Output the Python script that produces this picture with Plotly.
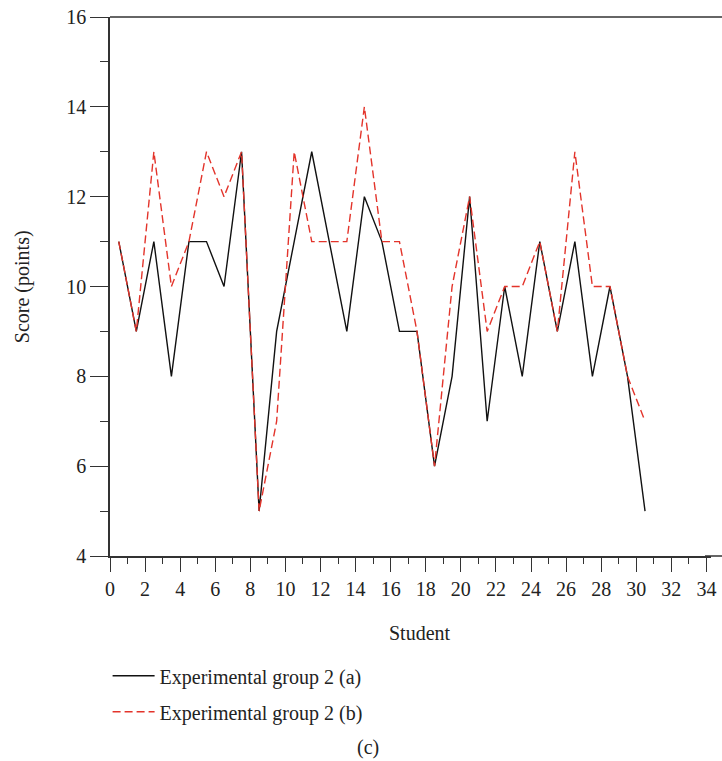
import plotly.graph_objects as go

students = [i + 0.5 for i in range(31)]
group_a = [11, 9, 11, 8, 11, 11, 10, 13, 5, 9, 11, 13, 11, 9, 12, 11, 9, 9, 6, 8,
           12, 7, 10, 8, 11, 9, 11, 8, 10, 8, 5]
group_b = [11, 9, 13, 10, 11, 13, 12, 13, 5, 7, 13, 11, 11, 11, 14, 11, 11, 9, 6, 10,
           12, 9, 10, 10, 11, 9, 13, 10, 10, 8, 7]
x_ticks = list(range(0, 35, 2))
y_ticks = list(range(4, 17, 2))

FONT = "Liberation Serif"
AX = "#333333"

fig = go.Figure()
fig.add_trace(go.Scatter(x=students, y=group_a, mode="lines", name="Experimental group 2 (a)",
                         line=dict(color="#111111", width=1.4), legendgroup="a"))
fig.add_trace(go.Scatter(x=students, y=group_b, mode="lines", name="Experimental group 2 (b)",
                         line=dict(color="#e3342b", width=1.4, dash="8px,4px"), legendgroup="b"))

fig.update_layout(
    width=722, height=761,
    margin=dict(l=110, r=6, t=16, b=205),
    paper_bgcolor="white", plot_bgcolor="white",
    font=dict(family=FONT, size=20, color="#222222"),
    showlegend=True,
    legend=dict(x=-0.004, y=-0.186, xanchor="left", yanchor="top",
                font=dict(family=FONT, size=20, color="#222222"),
                tracegroupgap=7, itemwidth=42, bgcolor="rgba(0,0,0,0)"),
    xaxis=dict(range=[0, 34.26], tickvals=x_ticks, ticks="outside", ticklen=14, tickwidth=1.3,
               tickcolor=AX, showline=True, linecolor=AX, linewidth=1.5, mirror=False,
               showgrid=False, zeroline=False,
               minor=dict(dtick=1, ticks="outside", ticklen=6, tickwidth=1.3, tickcolor=AX, showgrid=False),
               tickfont=dict(family=FONT, size=20)),
    yaxis=dict(range=[4, 16], tickvals=y_ticks, ticks="outside", ticklen=18, tickwidth=1.3,
               tickcolor=AX, showline=True, linecolor=AX, linewidth=1.5, mirror=False,
               showgrid=False, zeroline=False,
               minor=dict(dtick=1, ticks="outside", ticklen=8, tickwidth=1.3, tickcolor=AX, showgrid=False),
               tickfont=dict(family=FONT, size=20)),
    shapes=[dict(type="line", xref="paper", yref="paper", x0=0, x1=1.02, y0=1, y1=1,
                 line=dict(color=AX, width=1.5)),
            dict(type="line", xref="paper", yref="paper", x0=0.99, x1=1.02, y0=0, y1=0,
                 line=dict(color=AX, width=1.5))],
    annotations=[
        dict(text="Student", xref="paper", yref="paper", x=0.5158, y=-0.1426,
             showarrow=False, xanchor="center", yanchor="middle", font=dict(family=FONT, size=20)),
        dict(text="Score (points)", xref="paper", yref="paper", x=-0.1453, y=0.5,
             showarrow=False, textangle=-90, xanchor="center", yanchor="middle", font=dict(family=FONT, size=20)),
        dict(text="(c)", xref="paper", yref="paper", x=0.4295, y=-0.3556,
             showarrow=False, xanchor="center", yanchor="middle", font=dict(family=FONT, size=20)),
    ],
)

fig.write_html("out.html")
